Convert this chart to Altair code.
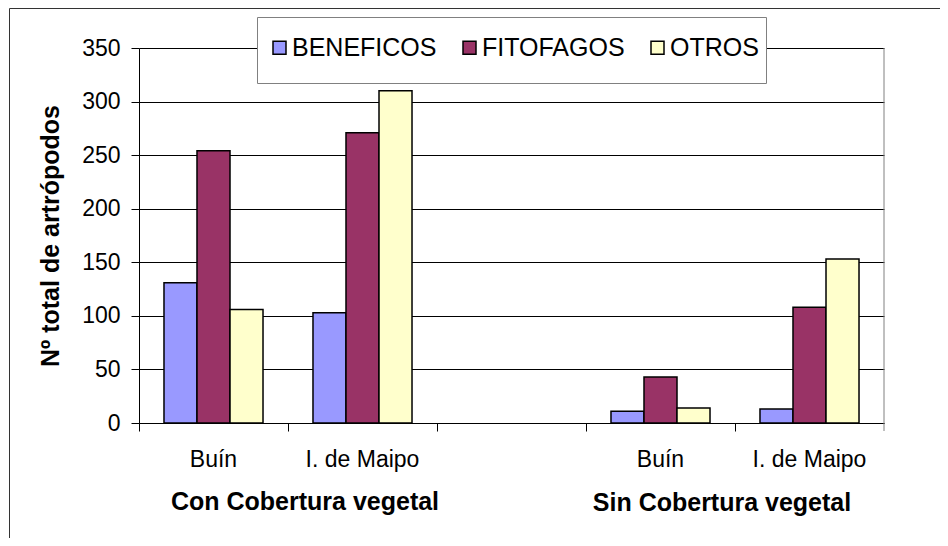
import altair as alt
import pandas as pd

# ---- data ----
places = ["Buín", "I. de Maipo", "Buín", "I. de Maipo"]
groups = ["Con", "Con", "Sin", "Sin"]
group_titles = ["Con Cobertura vegetal", "Sin Cobertura vegetal"]
series = ["BENEFICOS", "FITOFAGOS", "OTROS"]
beneficos = [131, 103, 11, 13]
fitofagos = [254, 271, 43, 108]
otros = [106, 310, 14, 153]
colors = ["#9999FF", "#993366", "#FFFFCC"]
y_ticks = [0, 50, 100, 150, 200, 250, 300, 350]

keys = [g + "|" + p for g, p in zip(groups, places)]
slot_domain = keys[:2] + ["gap"] + keys[2:]

rows = []
for i, k in enumerate(keys):
    for s, vals in zip(series, [beneficos, fitofagos, otros]):
        rows.append({"slot": k, "serie": s, "valor": vals[i]})
df = pd.DataFrame(rows)

FONT = "Liberation Sans"
W, H = 745, 375

x_scale = alt.Scale(domain=slot_domain, paddingInner=0, paddingOuter=0)

bars = alt.Chart(df).mark_bar(stroke="black", strokeWidth=1.5).encode(
    x=alt.X("slot:N", scale=x_scale, title=None,
            axis=alt.Axis(bandPosition=0, tickSize=8,
                          tickColor="black", domainColor="black", labelAngle=0,
                          labelFontSize=23, labelFont=FONT, labelColor="black",
                          labelPadding=17, grid=False,
                          labelExpr="indexof(datum.value,'|') >= 0 ? split(datum.value,'|')[1] : ''")),
    xOffset=alt.XOffset("serie:N", scale=alt.Scale(domain=series, paddingInner=0, paddingOuter=0.757)),
    y=alt.Y("valor:Q", scale=alt.Scale(domain=[0, 350], nice=False),
            title="Nº total de artrópodos",
            axis=alt.Axis(values=y_ticks, tickSize=8, tickColor="black", domainColor="black",
                          gridColor="black", labelFontSize=23, labelFont=FONT,
                          labelColor="black", labelPadding=11, titleFont=FONT,
                          titleFontSize=25, titleFontWeight="bold", titleColor="black",
                          titlePadding=18)),
    color=alt.Color("serie:N", scale=alt.Scale(domain=series, range=colors),
                    legend=alt.Legend(title=None, orient="none", legendX=128, legendY=-13,
                                      direction="horizontal", symbolType="square",
                                      symbolSize=169, symbolStrokeColor="black",
                                      symbolStrokeWidth=1.5, labelFontSize=25,
                                      labelFont=FONT, labelColor="black", labelOffset=0,
                                      columnPadding=20, padding=0)),
)


def group_label(i, dx, dy):
    d = pd.DataFrame({"slot": [keys[2 * i + 1]], "titulo": [group_titles[i]]})
    return alt.Chart(d).mark_text(fontSize=25, font=FONT, fontWeight="bold", color="black",
                                  baseline="middle", dx=dx, dy=dy).encode(
        x=alt.X("slot:N", scale=x_scale, bandPosition=0),
        y=alt.value(H),
        text="titulo:N",
    )


con_text = group_label(0, 17, 79)
sin_text = group_label(1, -13, 80)

one = alt.Data(values=[{"a": 1}])
frame_left = alt.Chart(one).mark_rule(color="#333333").encode(
    x=alt.value(-129.5), y=alt.value(-39.5), y2=alt.value(520))
frame_top = alt.Chart(one).mark_rule(color="#333333").encode(
    x=alt.value(-129.5), x2=alt.value(802.5), y=alt.value(-39.5))
frame_right = alt.Chart(one).mark_rule(color="#333333").encode(
    x=alt.value(802.5), y=alt.value(-39.5), y2=alt.value(520))

legend_box = alt.Chart(one).mark_rect(fill="white", stroke="#808080", strokeWidth=1).encode(
    x=alt.value(118.5), x2=alt.value(627.5), y=alt.value(-30.5), y2=alt.value(35.5))

right_edge = alt.Chart(one).mark_rule(color="#808080").encode(
    x=alt.value(W), y=alt.value(0), y2=alt.value(H + 8))

chart = alt.layer(frame_left, frame_top, frame_right, bars, right_edge,
                  legend_box, con_text, sin_text).properties(
    width=W, height=H,
    autosize=alt.AutoSizeParams(type="none"),
    padding={"left": 131, "top": 40, "right": 56, "bottom": 115},
).configure_view(stroke=None)

chart.save("out.html", embed_options={"renderer": "svg", "actions": False})
